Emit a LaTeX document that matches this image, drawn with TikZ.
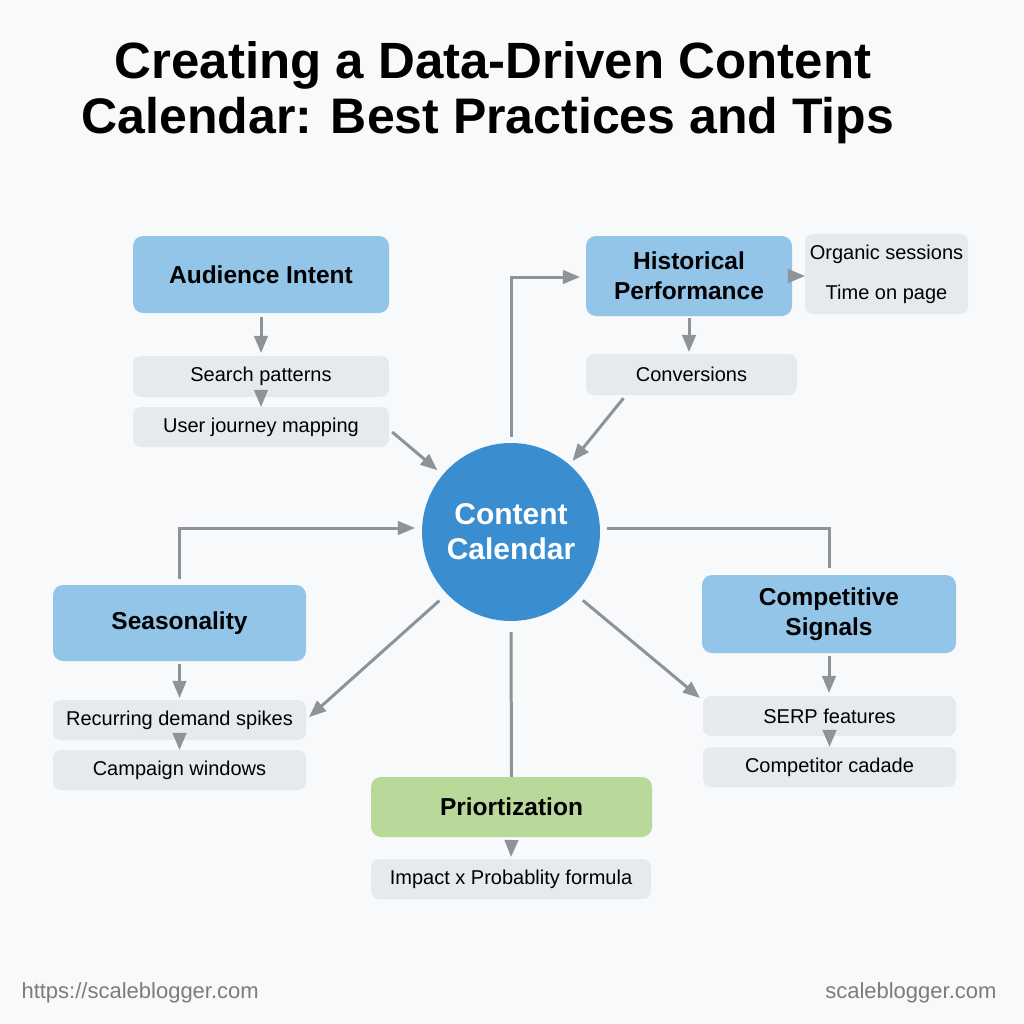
\documentclass[tikz,border=0pt]{standalone}
\usepackage{fontspec}
\setmainfont{Liberation Sans}
\usetikzlibrary{arrows}
\definecolor{bgpaper}{HTML}{F8F9FA}
\definecolor{catblue}{HTML}{93C5E9}
\definecolor{itemgray}{HTML}{E6EAEE}
\definecolor{hubblue}{HTML}{3A8ED0}
\definecolor{prigreen}{HTML}{B9D99B}
\definecolor{linkgray}{HTML}{8F9397}
\definecolor{footgray}{HTML}{7C7C7C}
\tikzset{
	cat/.style={rectangle, rounded corners=10pt, fill=catblue, inner sep=0pt,
		align=center, font=\bfseries\fontsize{24.5}{30}\selectfont},
	item/.style={rectangle, rounded corners=8pt, fill=itemgray, inner sep=0pt,
		align=center, font=\fontsize{20}{24}\selectfont},
	link/.style={draw=linkgray, line width=3pt, >=triangle 45},
}
\begin{document}
\begin{tikzpicture}[x=1pt, y=-1pt]
		\useasboundingbox [fill=bgpaper] (0,0) rectangle (1024,1024);
		\node [anchor=base, font=\bfseries\fontsize{51}{56}\selectfont] (T1) at (493,79)
			{Creating a Data-Driven Content};
		\node [anchor=base, font=\bfseries\fontsize{50}{56}\selectfont] (T2) at (488,134)
			{Calendar: Best Practices and Tips};
		\node (CC) at (511,532) [circle, fill=hubblue, minimum size=178pt, inner sep=0pt,
			align=center, text=white, font=\bfseries\fontsize{30}{35}\selectfont]
			{Content\\Calendar};
		\node (AI) at (261,274.5) [cat, minimum width=256pt, minimum height=77pt]
			{Audience Intent};
		\node (SP) at (261,376.5) [item, minimum width=256pt, minimum height=41pt]
			{Search patterns};
		\node (UJ) at (261,427) [item, minimum width=256pt, minimum height=40pt]
			{User journey mapping};
		\node (HP) at (689,276) [cat, minimum width=206pt, minimum height=80pt]
			{Historical\\Performance};
		\node (OS) at (886.5,274) [item, minimum width=163pt, minimum height=80pt,
			font=\fontsize{20}{40}\selectfont]
			{Organic sessions\\Time on page};
		\node (CV) at (691.5,374.5) [item, minimum width=211pt, minimum height=41pt]
			{Conversions};
		\node (SE) at (179.5,623) [cat, minimum width=253pt, minimum height=76pt]
			{Seasonality};
		\node (RD) at (179.5,720) [item, minimum width=253pt, minimum height=40pt]
			{Recurring demand spikes};
		\node (CW) at (179.5,770) [item, minimum width=253pt, minimum height=40pt]
			{Campaign windows};
		\node (CS) at (829,614) [cat, minimum width=254pt, minimum height=78pt]
			{Competitive\\Signals};
		\node (SF) at (829.5,716) [item, minimum width=253pt, minimum height=40pt]
			{SERP features};
		\node (CO) at (829.5,767) [item, minimum width=253pt, minimum height=40pt]
			{Competitor cadade};
		\node (PR) at (511.5,807) [cat, fill=prigreen, minimum width=281pt, minimum height=60pt]
			{Priortization};
		\node (IP) at (511,879) [item, minimum width=280pt, minimum height=40pt]
			{Impact x Probablity formula};
		\node (U1) at (18,993) [anchor=west, text=footgray, font=\fontsize{22}{24}\selectfont]
			{https://scaleblogger.com};
		\node (U2) at (1000,993) [anchor=east, text=footgray, font=\fontsize{22}{24}\selectfont]
			{scaleblogger.com};
		\draw [link, ->, shorten <=4pt, shorten >=3pt] (AI.south) to (SP.north);
		\draw [link, ->] (SP.south) to (UJ.north);
		\draw [link, ->, shorten >=7pt] ([shift={(3,5)}]UJ.east) to (CC.140);
		\draw [link, ->, shorten <=2pt] (HP.east) to (HP.east -| OS.west);
		\draw [link, ->, shorten <=2pt, shorten >=2pt] (HP.south) to (HP.south |- CV.north);
		\draw [link, ->, shorten >=5pt] ([shift={(-68,3)}]CV.south) to (CC.49);
		\draw [link, ->, shorten >=6pt] ([yshift=6pt]CC.north) |- ([yshift=-1pt]HP.west);
		\draw [link, ->, shorten >=7pt] ([yshift=6pt]SE.north) |- ([yshift=4pt]CC.west);
		\draw [link, ->, shorten <=3pt, shorten >=2pt] (SE.south) to (SE.south |- RD.north);
		\draw [link, ->] (RD.south) to (CW.north);
		\draw [link, ->, shorten <=10pt] (CC.224) to ([shift={(3,-3)}]RD.east);
		\draw [link] ([shift={(7pt,4pt)}]CC.east) -| ([yshift=7pt]CS.north);
		\draw [link, ->, shorten <=3pt, shorten >=3pt] (CS.south) to (CS.south |- SF.north);
		\draw [link, ->] (SF.south) to (CO.north);
		\draw [link, ->, shorten <=10pt] (CC.-44) to ([shift={(-3,2)}]SF.north west);
		\draw [link] ([yshift=-11pt]CC.south) to (PR.north);
		\draw [link, ->, shorten <=3pt, shorten >=2pt] (PR.south) to (IP.north);
	\end{tikzpicture}
\end{document}
